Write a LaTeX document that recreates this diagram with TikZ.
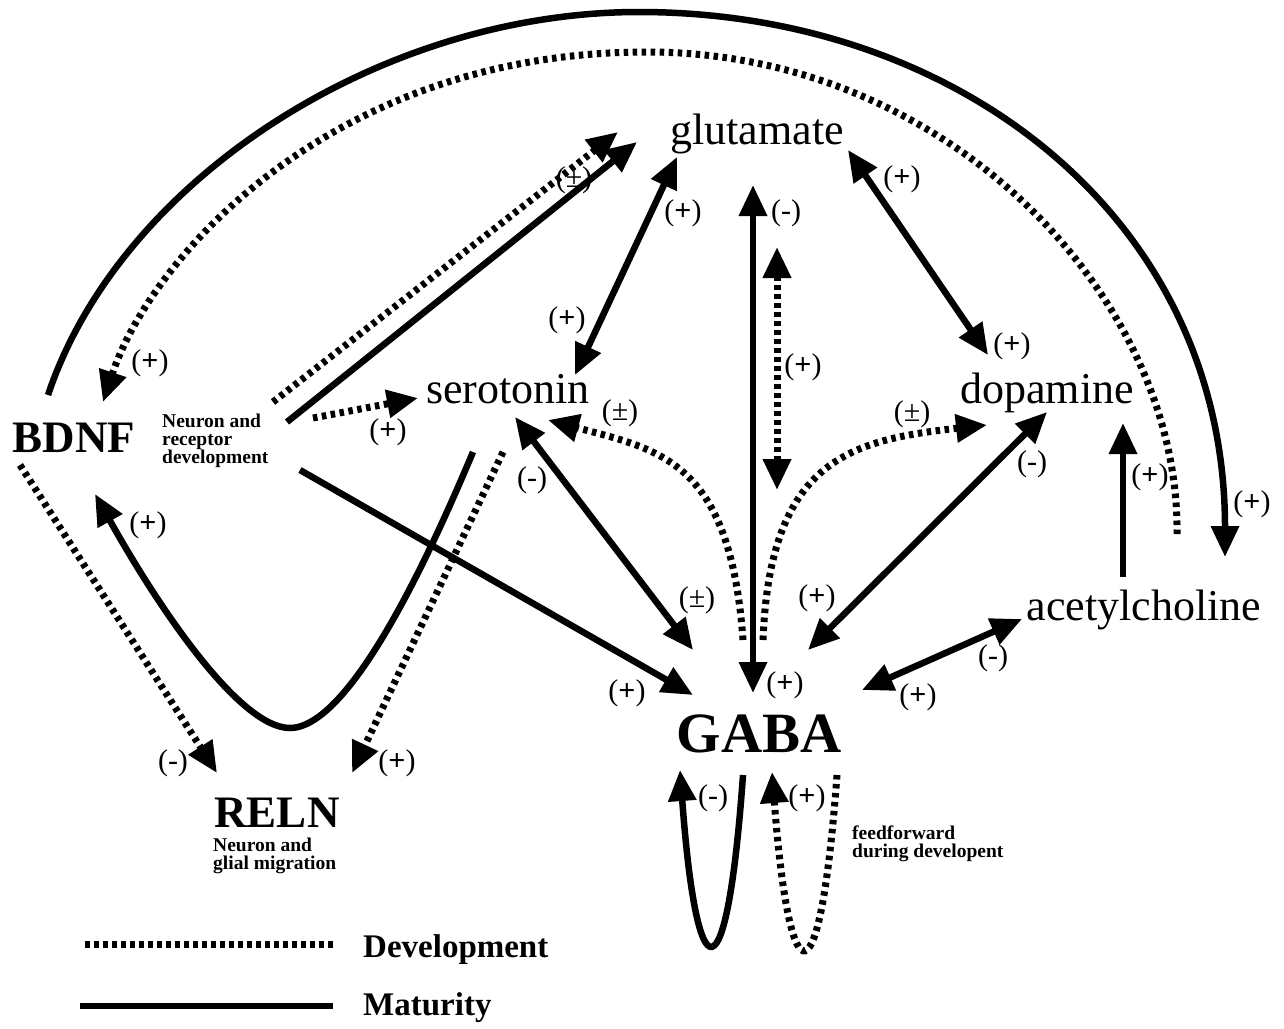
\documentclass[tikz,border=0pt]{standalone}
\usepackage{fontspec}
\setmainfont{Liberation Serif}
\usetikzlibrary{arrows.meta}
\newcommand{\pl}{(\textbf{+})}
\begin{document}
\begin{tikzpicture}[x=1pt,y=-1pt,
  mat/.style={line width=6.5pt},
  dev/.style={line width=7pt,dash pattern=on 4.5pt off 4.5pt},
  tipend/.style={-{Triangle[length=31pt,width=27pt]}},
  tipboth/.style={{Triangle[length=31pt,width=27pt]}-{Triangle[length=31pt,width=27pt]}},
  nt/.style={font=\fontsize{44}{48}\selectfont,inner sep=0pt,anchor=base},
  big/.style={font=\bfseries\fontsize{45}{50}\selectfont,inner sep=0pt,anchor=base},
  note/.style={font=\bfseries\fontsize{19.5}{18}\selectfont,inner sep=0pt,align=left,anchor=north west},
  sg/.style={font=\fontsize{30}{32}\selectfont,inner sep=0pt},
  leg/.style={font=\bfseries\fontsize{33}{36}\selectfont,inner sep=0pt,anchor=base west}]
\useasboundingbox (0,0) rectangle (1284,1028);
\fill[white] (0,0) rectangle (1284,1028);

% ---------- main nodes ----------
\node[nt] (glu) at (757,144) {glutamate};
\node[nt] (ser) at (508,403) {serotonin};
\node[nt] (dop) at (1047,403) {dopamine};
\node[nt] (ach) at (1144,620) {acetylcholine};
\node[big] (bdnf) at (74,452) {BDNF};
\node[big,font=\bfseries\fontsize{57}{60}\selectfont] (gaba) at (759,752) {GABA};
\node[big] (reln) at (277,827) {RELN};
\node[note] (bdnfnote) at (162,414) {Neuron and\\receptor\\development};
\node[note] (relnnote) at (213,838) {Neuron and\\glial migration};
\node[note] (ffnote) at (852,826) {feedforward\\during developent};

% ---------- connector end points ----------
\coordinate (arcS) at (48,395);
\coordinate (arcT) at (639,12);
\coordinate (arcE) at (1225,557);
\coordinate (darcS) at (1177,534);
\coordinate (darcT) at (647,52);
\coordinate (darcE) at (103,402);
\coordinate (loopS) at (473,452);
\coordinate (loopB) at (290,728);
\coordinate (loopE) at (95,494);
\coordinate (b2rS) at (20,465);
\coordinate (b2rE) at (217,773);
\coordinate (s2rS) at (503,452);
\coordinate (s2rE) at (352,773);
\coordinate (b2gS) at (300,470);
\coordinate (b2gE) at (693,695);
\coordinate (b2gluS) at (287,422);
\coordinate (b2gluE) at (637,142);
\coordinate (b2gludS) at (273,402);
\coordinate (b2gludE) at (618,132);
\coordinate (b2sS) at (313,418);
\coordinate (b2sE) at (418,398);
\coordinate (gsA) at (677,157);
\coordinate (gsB) at (575,375);
\coordinate (ggA) at (753,185);
\coordinate (ggB) at (753,693);
\coordinate (ggdA) at (777,247);
\coordinate (ggdB) at (777,490);
\coordinate (gdA) at (848,150);
\coordinate (gdB) at (988,355);
\coordinate (sgA) at (515,417);
\coordinate (sgB) at (693,650);
\coordinate (gsdS) at (743,640);
\coordinate (gsdE) at (548,420);
\coordinate (gddS) at (763,640);
\coordinate (gddE) at (987,425);
\coordinate (dgA) at (1047,412);
\coordinate (dgB) at (808,650);
\coordinate (adS) at (1123,577);
\coordinate (adE) at (1123,423);
\coordinate (gaA) at (862,690);
\coordinate (gaB) at (1022,619);
\coordinate (gl1S) at (743,775);
\coordinate (gl1E) at (680,770);
\coordinate (gl2S) at (837,775);
\coordinate (gl2E) at (772,772);
\coordinate (legdS) at (85,944);
\coordinate (legdE) at (335,944);
\coordinate (legmS) at (80,1006);
\coordinate (legmE) at (333,1006);

% ---------- connectors ----------
\draw[mat,tipend] (arcS) .. controls (120,180) and (380,12) .. (arcT)
   .. controls (960,12) and (1225,220) .. (arcE);
\draw[dev,tipend] (darcS) .. controls (1180,300) and (950,52) .. (darcT)
   .. controls (330,52) and (150,260) .. (darcE);
\draw[mat,tipend] (loopS) .. controls (390,650) and (330,728) .. (loopB)
   .. controls (240,728) and (160,610) .. (loopE);
\draw[dev,tipend] (b2rS) -- (b2rE);
\draw[dev,tipend] (s2rS) -- (s2rE);
\draw[mat,tipend] (b2gS) -- (b2gE);
\draw[mat,tipend] (b2gluS) -- (b2gluE);
\draw[dev,tipend] (b2gludS) -- (b2gludE);
\draw[dev,tipend] (b2sS) -- (b2sE);
\draw[mat,tipboth] (gsA) -- (gsB);
\draw[mat,tipboth] (ggA) -- (ggB);
\draw[dev,tipboth] (ggdA) -- (ggdB);
\draw[mat,tipboth] (gdA) -- (gdB);
\draw[mat,tipboth] (sgA) -- (sgB);
\draw[dev,tipend] (gsdS) .. controls (730,460) and (660,450) .. (gsdE);
\draw[dev,tipend] (gddS) .. controls (770,460) and (850,440) .. (gddE);
\draw[mat,tipboth] (dgA) -- (dgB);
\draw[mat,tipend] (adS) -- (adE);
\draw[mat,tipboth] (gaA) -- (gaB);
\draw[mat,tipend] (gl1S) .. controls (727,1000) and (697,1000) .. (gl1E);
\draw[dev,tipend] (gl2S) .. controls (820,1005) and (790,1005) .. (gl2E);

% ---------- legend ----------
\draw[dev] (legdS) -- (legdE);
\draw[mat] (legmS) -- (legmE);
\node[leg] (legd) at (363,957) {Development};
\node[leg] (legm) at (363,1015) {Maturity};

% ---------- signs ----------
\node[sg] (s1) at (150,363) {\pl};
\node[sg] (s2) at (574,180) {(±)};
\node[sg] (s3) at (683,213) {\pl};
\node[sg] (s4) at (567,320) {\pl};
\node[sg] (s5) at (786,213) {(-)};
\node[sg] (s6) at (803,367) {\pl};
\node[sg] (s7) at (902,179) {\pl};
\node[sg] (s8) at (1012,346) {\pl};
\node[sg] (s9) at (388,432) {\pl};
\node[sg] (s10) at (620,413) {(±)};
\node[sg] (s11) at (912,414) {(±)};
\node[sg] (s12) at (1032,464) {(-)};
\node[sg] (s13) at (1150,477) {\pl};
\node[sg] (s14) at (1252,504) {\pl};
\node[sg] (s15) at (532,480) {(-)};
\node[sg] (s16) at (148,525) {\pl};
\node[sg] (s17) at (697,600) {(±)};
\node[sg] (s18) at (817,598) {\pl};
\node[sg] (s19) at (627,693) {\pl};
\node[sg] (s20) at (785,685) {\pl};
\node[sg] (s21) at (993,658) {(-)};
\node[sg] (s22) at (918,697) {\pl};
\node[sg] (s23) at (173,763) {(-)};
\node[sg] (s24) at (397,763) {\pl};
\node[sg] (s25) at (713,798) {(-)};
\node[sg] (s26) at (807,798) {\pl};
\end{tikzpicture}
\end{document}
